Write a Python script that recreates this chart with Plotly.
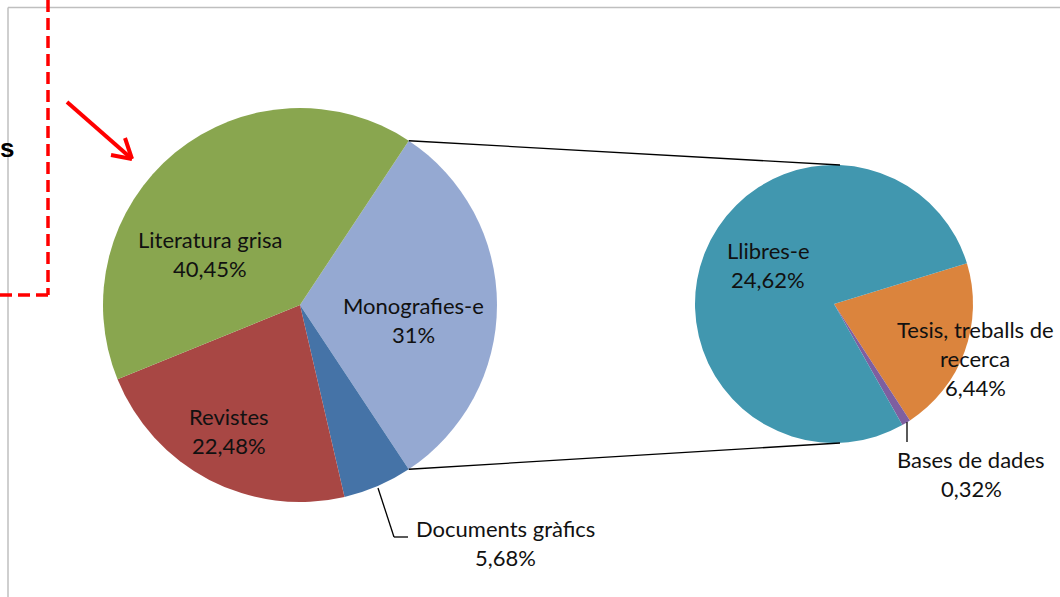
"""Pie-of-pie: tipus de documents (Plotly)."""
import math
import plotly.graph_objects as go

# ── dades ────────────────────────────────────────────────────────────────
MAIN_LABELS = ["Monografies-e", "Documents gràfics", "Revistes", "Literatura grisa"]
MAIN_VALUES = [31.38, 5.68, 22.48, 40.45]
MAIN_TEXT = ["31%", "5,68%", "22,48%", "40,45%"]
MAIN_COLORS = ["#95A9D2", "#4573A7", "#A84744", "#89A64F"]

SUB_LABELS = ["Tesis, treballs de<br>recerca", "Bases de dades", "Llibres-e"]
SUB_VALUES = [6.44, 0.32, 24.62]
SUB_TEXT = ["6,44%", "0,32%", "24,62%"]
SUB_COLORS = ["#DB843D", "#7E5FA0", "#4197AF"]

W, H = 1060, 597
FONT = "Lato, 'Open Sans', sans-serif"
TXT = "#111111"

# geometria (px)
C1, R1 = (300, 305), 197
C2, R2 = (834, 304), 139


def _px(x, y):
    return x / W, 1 - y / H


def _domain(c, r):
    x0, y0 = _px(c[0] - r, c[1] + r)
    x1, y1 = _px(c[0] + r, c[1] - r)
    return dict(x=[x0, x1], y=[y0, y1])


def _line(p0, p1, color="#000000", width=1.3, dash="solid"):
    a, b = _px(*p0)
    c, d = _px(*p1)
    return dict(type="line", xref="paper", yref="paper", x0=a, y0=b, x1=c, y1=d,
                line=dict(color=color, width=width, dash=dash), layer="above")


def _label(lines, center, size=22, spacing=29):
    anns = []
    n = len(lines)
    for i, t in enumerate(lines):
        y = center[1] + (i - (n - 1) / 2) * spacing
        x, yy = _px(center[0], y)
        anns.append(dict(xref="paper", yref="paper", x=x, y=yy, text=t,
                         showarrow=False, xanchor="center", yanchor="middle",
                         font=dict(family=FONT, size=size, color=TXT)))
    return anns


other_frac = MAIN_VALUES[0] / sum(MAIN_VALUES)
half = other_frac * 180.0

fig = go.Figure()
fig.add_trace(go.Pie(
    labels=MAIN_LABELS, values=MAIN_VALUES, sort=False, direction="clockwise",
    rotation=90 - half, marker=dict(colors=MAIN_COLORS, line=dict(width=0)),
    textinfo="none", domain=_domain(C1, R1), showlegend=False,
))
fig.add_trace(go.Pie(
    labels=SUB_LABELS, values=SUB_VALUES, sort=False, direction="clockwise",
    rotation=73, marker=dict(colors=SUB_COLORS, line=dict(width=0)),
    textinfo="none", domain=_domain(C2, R2), showlegend=False,
))

# línies de connexió entre les dues pastisses
rad = math.radians(half)
top1 = (C1[0] + R1 * math.cos(rad), C1[1] - R1 * math.sin(rad))
bot1 = (C1[0] + R1 * math.cos(rad), C1[1] + R1 * math.sin(rad))
red_dash = "12px,6px"
shapes = [
    _line(top1, (C2[0] + 6, C2[1] - R2)),
    _line(bot1, (C2[0] + 6, C2[1] + R2)),
    # guies d'etiquetes
    _line((378, 488), (394, 537)), _line((394, 537), (408, 537)),
    _line((907, 422), (907, 442)),
    # marc del gràfic
    _line((8, 7.5), (W, 7.5), color="#BFBFBF", width=1.5),
    _line((8, 7.5), (8, H), color="#BFBFBF", width=1.5),
    # requadre vermell discontinu i fletxa
    _line((48, 0), (48, 295), color="#FF0000", width=3.5, dash=red_dash),
    _line((48, 295), (0, 295), color="#FF0000", width=3.5, dash=red_dash),
    _line((67, 102), (132, 159), color="#FF0000", width=4),
    _line((132, 159), (111, 155), color="#FF0000", width=4),
    _line((132, 159), (125, 138), color="#FF0000", width=4),
]

annotations = []
annotations += _label(["Literatura grisa", MAIN_TEXT[3]], (210, 254))
annotations += _label(["Monografies-e", MAIN_TEXT[0]], (413, 320))
annotations += _label(["Revistes", MAIN_TEXT[2]], (229, 431))
annotations += _label(["Documents gràfics", MAIN_TEXT[1]], (505, 543))
annotations += _label(["Llibres-e", SUB_TEXT[2]], (768, 265))
annotations += _label(["Tesis, treballs de", "recerca", SUB_TEXT[0]], (975, 358))
annotations += _label(["Bases de dades", SUB_TEXT[1]], (971, 474))
sx, sy = _px(16, 148)
annotations.append(dict(xref="paper", yref="paper", x=sx, y=sy, text="<b>s</b>",
                        showarrow=False, xanchor="right", yanchor="middle",
                        font=dict(family="Liberation Sans, Arial, sans-serif",
                                  size=26, color="#000000")))

fig.update_layout(
    width=W, height=H, paper_bgcolor="#ffffff", plot_bgcolor="#ffffff",
    margin=dict(t=0, b=0, l=0, r=0),
    shapes=shapes, annotations=annotations,
)
fig.write_html("out.html", config={"displayModeBar": False},
               post_script="document.body.style.margin='0px';")
